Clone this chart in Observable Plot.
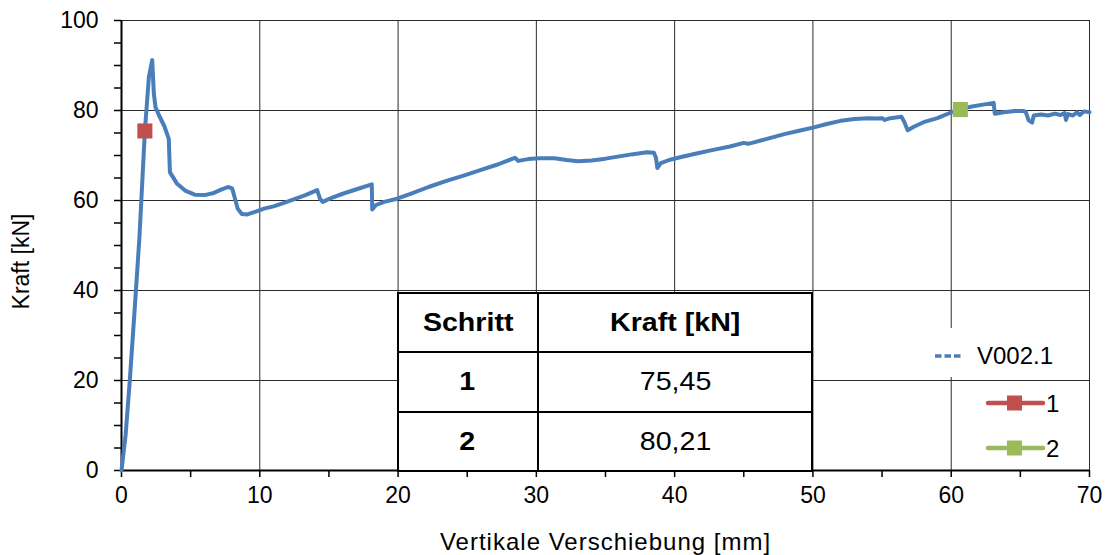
<!DOCTYPE html>
<html><head><meta charset="utf-8">
<script src="https://cdn.jsdelivr.net/npm/d3@7"></script>
<script src="https://cdn.jsdelivr.net/npm/@observablehq/plot@0.6"></script>
<style>
body{margin:0;background:#fff;font-family:"Liberation Sans",Arial,sans-serif;}
#wrap{position:relative;width:1109px;height:555px;overflow:hidden;}
#wrap svg{display:block;}
#tbl{position:absolute;border-collapse:collapse;background:#fff;font-size:26px;color:#000;}
#tbl td{border:2.5px solid #000;text-align:center;padding:0;}
#tbl td span{display:inline-block;transform:scaleX(1.1);}
#tbl td.b{font-weight:bold;}
#leg{position:absolute;left:0;top:0;pointer-events:none;}
.xlab text{letter-spacing:1px;}
</style></head><body><div id="wrap"></div>
<script>
// ---- data ----
const seriesName = "V002.1";
const dispX = [0,0.3,0.6,1.0,1.3,1.69,1.98,2.22,2.34,2.46,2.7,3.1,3.42,3.5,4.0,4.6,5.3,6.0,6.6,7.2,7.7,8.0,8.2,8.4,8.7,9.1,9.6,10.3,11.0,11.7,12.5,13.3,14.15,14.35,14.55,15.2,16.0,17.0,18.1,18.13,18.4,19.0,19.93,21.0,22.2,23.55,24.8,26.0,27.2,28.3,28.45,28.7,29.4,30.2,31.3,32.2,33.0,34.0,35.0,36.0,37.0,38.0,38.5,38.65,38.75,39.0,39.6,40.4,41.5,42.7,44.0,45.0,45.3,45.6,46.8,48.0,49.0,50.0,51.0,52.0,53.0,54.0,54.6,55.0,55.2,55.6,56.4,56.6,56.85,57.3,58.0,59.0,59.94,60.66,61.5,62.3,63.07,63.15,63.8,64.6,65.24,65.4,65.6,65.85,65.97,66.5,67.0,67.5,67.9,68.2,68.3,68.45,68.8,69.1,69.3,69.6,70.0];
const forceY = [0,8,20,38,52,75.45,87.4,91.2,83.7,80.7,79,76.5,73.7,66.3,63.8,62.2,61.3,61.2,61.6,62.4,63.0,62.7,60.5,58.2,57.0,56.9,57.4,58.2,58.7,59.4,60.3,61.2,62.3,60.4,59.7,60.6,61.5,62.5,63.6,58.0,59.0,59.7,60.4,61.6,63.0,64.4,65.6,66.8,68.0,69.3,69.5,68.8,69.2,69.4,69.4,69.0,68.7,68.9,69.3,69.8,70.3,70.7,70.6,69.5,67.2,68.3,69.0,69.6,70.4,71.2,72.0,72.8,72.6,72.8,73.8,74.8,75.5,76.2,77.0,77.7,78.1,78.3,78.2,78.3,77.9,78.3,78.6,77.5,75.6,76.4,77.4,78.3,79.5,80.3,80.9,81.3,81.7,79.3,79.6,79.9,79.9,79.6,77.8,77.3,78.9,79.1,78.9,79.3,79.0,79.4,77.9,79.2,78.9,79.6,79.0,79.8,79.6];
const stepLabels = ["1","2"];
const stepX = [1.69,60.66];
const stepForce = [75.45,80.21];
const stepColors = ["#c0504d","#9bbb59"];
const tableHeads = ["Schritt","Kraft [kN]"];
const xTicks = [0,10,20,30,40,50,60,70];
const yTicks = [0,20,40,60,80,100];
const xMinor = [5,15,25,35,45,55,65];
const yMinor = [5,10,15,25,30,35,45,50,55,65,70,75,85,90,95];
const xLabel = "Vertikale Verschiebung [mm]";
const yLabel = "Kraft [kN]";

// ---- chart ----
const curve = dispX.map((x,i)=>({x, y: forceY[i]}));
const steps = stepLabels.map((s,i)=>({s, x: stepX[i], y: stepForce[i], c: stepColors[i]}));
const FONT = "Liberation Sans, Arial, sans-serif";
const chart = Plot.plot({
  width:1109, height:555, marginLeft:121, marginRight:20, marginTop:20, marginBottom:85,
  x:{domain:[0,70]}, y:{domain:[0,100]}, color:{type:"identity"},
  style:{fontFamily:FONT, fontSize:"23px", color:"#000", background:"#fff"},
  marks:[
    Plot.gridX(xTicks.slice(1), {stroke:"#2b2b2b", strokeOpacity:1, strokeWidth:1}),
    Plot.gridY(yTicks.slice(1), {stroke:"#2b2b2b", strokeOpacity:1, strokeWidth:1}),
    Plot.axisX(xMinor, {tickSize:7, tickFormat:()=>"", label:null, strokeWidth:1.5}),
    Plot.axisX(xTicks, {tickSize:7, tickPadding:9, strokeWidth:1.5, label:null}),
    Plot.axisY(yMinor, {tickSize:7, tickFormat:()=>"", label:null, strokeWidth:1.5}),
    Plot.axisY(yTicks, {tickSize:7, tickPadding:16, strokeWidth:1.5, label:null}),
    Plot.text([xLabel], {frameAnchor:"bottom", lineAnchor:"bottom", dy:79, fontSize:24, fill:"#000", className:"xlab"}),
    Plot.text([yLabel], {frameAnchor:"left", rotate:-90, lineAnchor:"top", textAnchor:"middle", dx:-109, dy:16, fontSize:23, fill:"#000"}),
    Plot.ruleX([0], {stroke:"#000", strokeWidth:2}),
    Plot.ruleY([0], {stroke:"#000", strokeWidth:2}),
    Plot.line(curve, {x:"x", y:"y", stroke:"#4a7ebb", strokeWidth:4, strokeLinejoin:"round", strokeLinecap:"round"}),
    Plot.dot(steps, {x:"x", y:"y", symbol:"square", r:8.5, fill:"c", stroke:null})
  ]
});
const wrap = document.getElementById("wrap");
wrap.appendChild(chart);
const sx = chart.scale("x"), sy = chart.scale("y");

// ---- table ----
const tbl = document.createElement("table");
tbl.id = "tbl";
const L = sx.apply(20), R = sx.apply(50), M = sx.apply(30);
const T = sy.apply(39.6), B = sy.apply(0);
tbl.style.left = (L-1)+"px"; tbl.style.top = T+"px";
tbl.style.width = (R-L+2)+"px"; tbl.style.height = (B-T+2)+"px";
const rows = [tableHeads.map(h=>[h,true])].concat(stepLabels.map((s,i)=>[[s,true],[stepForce[i].toFixed(2).replace(".",","),false]]));
rows.forEach((r,ri)=>{
  const tr = document.createElement("tr");
  r.forEach(([t,b],ci)=>{
    const td = document.createElement("td");
    const sp = document.createElement("span");
    sp.textContent = t; td.appendChild(sp);
    if (b) td.className = "b";
    if (ci===0) td.style.width = (M-L)+"px";
    tr.appendChild(td);
  });
  tbl.appendChild(tr);
});
wrap.appendChild(tbl);

// ---- legend ----
const ns = "http://www.w3.org/2000/svg";
const leg = document.createElementNS(ns,"svg");
leg.setAttribute("id","leg"); leg.setAttribute("width",1109); leg.setAttribute("height",555);
leg.style.fontFamily = FONT; leg.style.fontSize = "24px";
function el(tag, attrs, txt){const e=document.createElementNS(ns,tag);for(const k in attrs)e.setAttribute(k,attrs[k]);if(txt!=null)e.textContent=txt;leg.appendChild(e);return e;}
el("rect",{x:925,y:328,width:162,height:49,fill:"#fff"});
el("line",{x1:935,x2:962,y1:356,y2:356,stroke:"#4a7ebb","stroke-width":3.5,"stroke-dasharray":"6.5,3"});
el("text",{x:977,y:364,fill:"#000"},seriesName);
stepLabels.forEach((s,i)=>{
  const yy = 403 + i*45;
  el("line",{x1:988,x2:1043,y1:yy,y2:yy,stroke:stepColors[i],"stroke-width":4.5,"stroke-linecap":"round"});
  el("rect",{x:1007,y:yy-7.5,width:15,height:15,fill:stepColors[i]});
  el("text",{x:1046,y:yy+9,fill:"#000"},s);
});
wrap.appendChild(leg);
</script></body></html>
